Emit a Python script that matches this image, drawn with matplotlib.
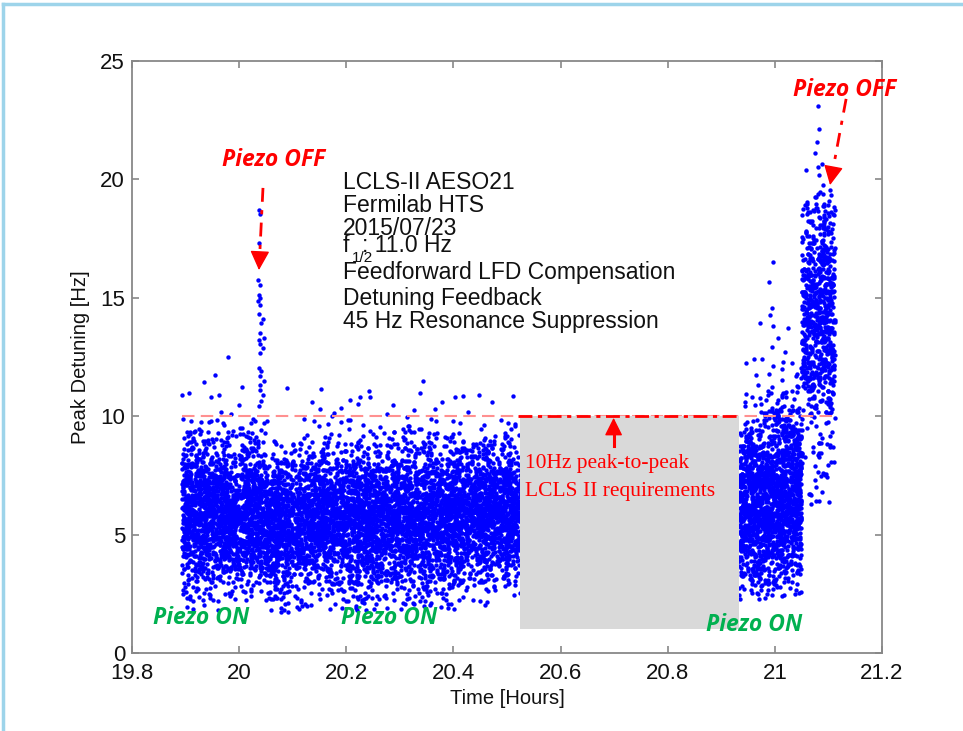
import numpy as np
import matplotlib
matplotlib.use("Agg")
import matplotlib.pyplot as plt
from matplotlib.patches import Rectangle
from matplotlib.lines import Line2D

plt.rcParams['font.family'] = ['Liberation Sans', 'DejaVu Sans']

# ---------------- data ----------------
# Dense clouds: time range, point count, and the shape of the detuning spread
cloud_t0   = [19.893, 19.95, 20.035, 20.05, 20.12, 20.30, 20.42, 20.933, 21.00, 21.05, 21.05]
cloud_t1   = [19.95, 20.035, 20.05, 20.12, 20.30, 20.42, 20.525, 21.00, 21.05, 21.112, 21.112]
cloud_n    = [700, 1000, 170, 780, 2050, 1380, 1200, 1000, 780, 720, 45]
cloud_mean = [6.0, 5.85, 5.6, 5.4, 5.7, 5.75, 5.9, 6.2, 6.8, 14.5, 8.3]
cloud_sd   = [1.65, 1.6, 1.6, 1.5, 1.6, 1.6, 1.5, 1.85, 2.0, 2.6, 1.2]
cloud_lo   = [1.8, 1.8, 2.0, 1.6, 1.8, 1.8, 2.0, 2.2, 2.3, 9.8, 4.8]
cloud_hi   = [10.0, 10.0, 10.0, 9.8, 10.0, 10.0, 10.0, 12.0, 12.5, 19.5, 10.0]

# Piezo-OFF spike near 20.04 h
spike_t = [20.037, 20.038, 20.037, 20.036, 20.038, 20.037, 20.039, 20.036, 20.038,
           20.037, 20.045, 20.040, 20.038, 20.046, 20.037, 20.039, 20.045, 20.038,
           20.037, 20.040, 20.038, 20.046, 20.039, 20.038, 20.045, 20.040, 20.037]
spike_y = [18.7, 18.55, 17.3, 15.75, 15.55, 15.1, 15.0, 14.85, 14.7,
           14.3, 14.1, 13.95, 13.5, 13.3, 13.2, 13.05, 12.9, 12.65,
           12.05, 11.9, 11.7, 11.5, 11.3, 11.1, 10.9, 10.65, 10.45]

# isolated points above the 10 Hz line
out_t = [19.893, 19.906, 19.934, 19.947, 19.962, 19.966, 19.985, 19.955, 19.980, 20.000,
         20.005, 20.089, 20.136, 20.153, 20.151, 20.177, 20.190, 20.207, 20.222, 20.226,
         20.242, 20.244, 20.276, 20.287, 20.326, 20.338, 20.343, 20.366, 20.379, 20.403,
         20.418, 20.427, 20.448, 20.472, 20.511,
         20.997, 20.989, 20.995, 20.991, 20.972, 20.997, 21.025, 21.006, 20.995, 21.019,
         20.946, 20.961, 20.976, 21.015, 21.032, 20.997,
         21.081, 21.082, 21.079, 21.075, 21.058, 21.081, 21.088, 21.082, 21.090, 21.103,
         21.060, 21.084]
out_y = [10.91, 10.96, 11.46, 10.83, 10.91, 10.19, 10.11, 11.76, 12.48, 10.49,
         11.25, 11.21, 10.62, 11.13, 10.32, 10.15, 10.36, 10.70, 10.53, 10.83,
         11.08, 10.79, 10.11, 10.49, 10.28, 10.96, 11.50, 10.32, 10.62, 10.79,
         10.87, 10.19, 10.91, 10.62, 10.87,
         16.51, 15.67, 14.57, 14.27, 13.94, 13.81, 13.72, 13.30, 12.92, 12.71,
         12.25, 12.42, 12.42, 12.29, 12.25, 12.12,
         23.10, 22.13, 21.58, 21.11, 20.40, 20.52, 20.65, 20.19, 19.76, 19.55,
         19.05, 19.47]

requirement = 10.0
mask_t = [20.525, 20.933]
mask_y = [1.0, 10.0]

x_ticks = [19.8, 20.0, 20.2, 20.4, 20.6, 20.8, 21.0, 21.2]
x_tick_labels = ['19.8', '20', '20.2', '20.4', '20.6', '20.8', '21', '21.2']
y_ticks = [0, 5, 10, 15, 20, 25]

info_lines = ['LCLS-II AESO21', 'Fermilab HTS', '2015/07/23',
              'Feedforward LFD Compensation', 'Detuning Feedback',
              '45 Hz Resonance Suppression']

# ---------------- build the cloud points ----------------
rng = np.random.default_rng(7)
ts, ys = [], []
for t0, t1, n, m, sd, lo, hi in zip(cloud_t0, cloud_t1, cloud_n, cloud_mean,
                                     cloud_sd, cloud_lo, cloud_hi):
    t = rng.uniform(t0, t1, n)
    y = rng.normal(m, sd, n)
    bad = (y < lo) | (y > hi)
    while bad.any():
        y[bad] = rng.normal(m, sd, bad.sum())
        bad = (y < lo) | (y > hi)
    ts.append(t)
    ys.append(y)
ts = np.concatenate(ts + [np.array(spike_t), np.array(out_t)])
ys = np.concatenate(ys + [np.array(spike_y), np.array(out_y)])

# ---------------- figure ----------------
fig = plt.figure(figsize=(9.63, 7.31), dpi=100)
ax = fig.add_axes([132/963, 1-653/731, 750/963, 592/731])

ax.scatter(ts, ys, s=10, c='#0000FF', linewidths=0, zorder=2)

# 10 Hz requirement line (light dashed)
ax.plot([19.893, 21.112], [requirement, requirement], color='#FF9090',
        lw=1.5, dashes=(6, 3), zorder=3)

# grey mask
ax.add_patch(Rectangle((mask_t[0], mask_y[0]), mask_t[1]-mask_t[0], mask_y[1]-mask_y[0],
                       facecolor='#D9D9D9', edgecolor='none', zorder=4))
ax.plot([20.52, 20.935], [requirement, requirement], color='#FF0000', lw=2,
        dashes=(5, 2, 1.5, 2), zorder=5)

# upward arrow to requirement line
ax.plot([20.699, 20.699], [8.75, 9.5], color='#FF0000', lw=2.2, zorder=6)
ax.annotate('', xy=(20.699, 9.93), xytext=(20.699, 9.35),
            arrowprops=dict(arrowstyle='-|>,head_length=1.0,head_width=0.5',
                            color='#FF0000', lw=1, mutation_scale=11,
                            shrinkA=0, shrinkB=0), zorder=6)

ax.text(20.5336, 8.02, '10Hz peak-to-peak', color='#FF0000', fontsize=15.5,
        family=['Liberation Serif', 'DejaVu Serif'], ha='left', va='center', zorder=6)
ax.text(20.5336, 6.80, 'LCLS II requirements', color='#FF0000', fontsize=15.5,
        family=['Liberation Serif', 'DejaVu Serif'], ha='left', va='center', zorder=6)

# Piezo OFF annotations with dash-dot arrows
off_font = dict(color='#FF0000', fontsize=16.5, fontweight='bold', style='italic',
                family=['Open Sans', 'DejaVu Sans'], ha='center', va='center', zorder=6)
ax.text(20.065, 20.82, 'Piezo OFF', **off_font)
ax.text(21.131, 23.78, 'Piezo OFF', **off_font)

for (x0, y0), (x1, y1) in [((20.0445, 19.64), (20.037, 16.17)),
                           ((21.133, 23.40), (21.103, 19.76))]:
    frac = 0.82
    xm, ym = x0 + (x1-x0)*frac, y0 + (y1-y0)*frac
    ax.plot([x0, xm], [y0, ym], color='#FF0000', lw=2, dashes=(5, 3, 1.5, 3), zorder=6)
    ax.annotate('', xy=(x1, y1), xytext=(xm, ym),
                arrowprops=dict(arrowstyle='-|>,head_length=1.0,head_width=0.5',
                                color='#FF0000', lw=1, mutation_scale=12,
                                shrinkA=0, shrinkB=0), zorder=6)

on_font = dict(color='#00B050', fontsize=16.5, fontweight='bold', style='italic',
               family=['Open Sans', 'DejaVu Sans'], ha='center', va='center', zorder=6)
ax.text(19.929, 1.48, 'Piezo ON', **on_font)
ax.text(20.280, 1.48, 'Piezo ON', **on_font)
ax.text(20.961, 1.18, 'Piezo ON', **on_font)

# info text block
info_x = 20.194
info_y = [19.89, 18.88, 17.92, 16.05, 14.99, 13.98]
for s, yy in zip(info_lines, info_y):
    ax.text(info_x, yy, s, fontsize=16.5, ha='left', va='center', color='#111111', zorder=6)
ax.text(info_x, 17.22, 'f', fontsize=16.5, ha='left', va='center', color='#111111', zorder=6)
ax.text(20.2107, 16.66, '1/2', fontsize=11, ha='left', va='center', color='#111111', zorder=6)
ax.text(20.2293, 17.22, ': 11.0 Hz', fontsize=16.5, ha='left', va='center', color='#111111', zorder=6)

# axes styling
ax.set_xlim(19.8, 21.2)
ax.set_ylim(0, 25)
ax.set_xticks(x_ticks)
ax.set_xticklabels(x_tick_labels)
ax.set_yticks(y_ticks)
for sp in ax.spines.values():
    sp.set_color('#888888')
    sp.set_linewidth(1.3)
ax.tick_params(direction='in', length=5, width=1.2, color='#888888',
               labelsize=16, labelcolor='#111111', top=True, right=True, pad=5)
ax.tick_params(axis='x', pad=7)
ax.set_xlabel('Time [Hours]', fontsize=14.5, color='#111111', labelpad=4)
ax.set_ylabel('Peak Detuning [Hz]', fontsize=14.5, color='#111111', labelpad=7)

# slide frame
fig.add_artist(Line2D([3/963, 1], [1-4/731, 1-4/731], color='#9DD4EA', lw=2.5,
                      transform=fig.transFigure))
fig.add_artist(Line2D([3/963, 3/963], [0, 1-4/731], color='#9DD4EA', lw=2.5,
                      transform=fig.transFigure))

fig.savefig('out.png', dpi=100)
